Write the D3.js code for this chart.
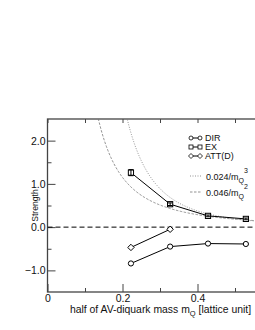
<!DOCTYPE html>
<html>
<head>
<meta charset="utf-8">
<script src="https://cdn.jsdelivr.net/npm/d3@7"></script>
<style>
  body { margin: 0; background: #fff; }
  svg { display: block; font-family: "Liberation Sans", Arial, sans-serif; }
</style>
</head>
<body>
<div id="app"></div>
<script>
// data
const mass = [0.2225, 0.327, 0.428, 0.529];
const dirValues = [-0.84, -0.45, -0.38, -0.39];
const exValues = [1.26, 0.53, 0.26, 0.19];
const exErrors = [0.07, 0.03, 0.02, 0.02];
const attMass = [0.2225, 0.327];
const attValues = [-0.47, -0.05];
// fit curves c/m^p from the legend
const fitCoef = [0.024, 0.046];
const fitPower = [3, 2];
const fitDash = ['1,1.5', '2.5,1.5'];
const xMajor = [0, 0.2, 0.4];
const xMinor = [0.1, 0.3, 0.5];
const yMajor = [-1, 0, 1, 2];
const yMinor = [-0.5, 0.5, 1.5];

const width = 255, height = 330;
const svg = d3.select('#app').append('svg').attr('width', width).attr('height', height);

const x = d3.scaleLinear().domain([0, 0.56]).range([47.5, 257.5]);
const y = d3.scaleLinear().domain([-1.5, 2.5]).range([292, 119]);

const defs = svg.append('defs');
defs.append('clipPath').attr('id', 'plot')
  .append('rect').attr('x', x(0)).attr('y', y(2.5)).attr('width', x(0.56) - x(0)).attr('height', y(-1.5) - y(2.5));

// frame
svg.append('rect')
  .attr('x', x(0)).attr('y', y(2.5))
  .attr('width', x(0.56) - x(0)).attr('height', y(-1.5) - y(2.5))
  .attr('fill', 'none').attr('stroke', '#444').attr('stroke-width', 1.3);

// axes with inward ticks
function styleAxis(g) {
  g.select('.domain').remove();
  g.selectAll('line').attr('stroke', '#444');
  g.selectAll('text').attr('font-size', 10.5).attr('fill', '#111');
}
svg.append('g').attr('transform', `translate(0,${y(-1.5)})`)
  .call(d3.axisBottom(x).tickValues(xMajor).tickSizeInner(-8).tickSizeOuter(0).tickPadding(3)
    .tickFormat(d => d === 0 ? '0' : d3.format('.1f')(d)))
  .call(styleAxis);
svg.append('g').attr('transform', `translate(0,${y(-1.5)})`)
  .call(d3.axisBottom(x).tickValues(xMinor).tickSizeInner(-4).tickSizeOuter(0).tickFormat(''))
  .call(styleAxis);
svg.append('g').attr('transform', `translate(0,${y(2.5)})`)
  .call(d3.axisTop(x).tickValues(xMajor.concat(xMinor)).tickSizeInner(-4).tickSizeOuter(0).tickFormat(''))
  .call(styleAxis);
svg.append('g').attr('transform', `translate(${x(0)},0)`)
  .call(d3.axisLeft(y).tickValues(yMajor).tickSizeInner(-8).tickSizeOuter(0).tickPadding(2)
    .tickFormat(d3.format('.1f')))
  .call(styleAxis);
svg.append('g').attr('transform', `translate(${x(0)},0)`)
  .call(d3.axisLeft(y).tickValues(yMinor).tickSizeInner(-4).tickSizeOuter(0).tickFormat(''))
  .call(styleAxis);

// axis titles
const xTitle = svg.append('text').attr('x', 160.5).attr('y', 313)
  .attr('text-anchor', 'middle').attr('font-size', 10.4).attr('fill', '#111');
xTitle.append('tspan').text('half of AV-diquark mass m');
xTitle.append('tspan').attr('font-size', 7.5).attr('dy', 3).text('Q');
xTitle.append('tspan').attr('dy', -3).text(' [lattice unit]');

svg.append('text').attr('transform', `translate(38,${y(0.5)}) rotate(-90)`)
  .attr('text-anchor', 'middle').attr('font-size', 8.6).attr('fill', '#111').text('Strength');

const plot = svg.append('g').attr('clip-path', 'url(#plot)');

// zero line
plot.append('line')
  .attr('x1', x(0)).attr('x2', x(0.56)).attr('y1', y(0)).attr('y2', y(0))
  .attr('stroke', '#000').attr('stroke-width', 1).attr('stroke-dasharray', '5,3');

// fit curves
fitCoef.forEach((c, i) => {
  const p = fitPower[i];
  const mStart = Math.pow(c / 2.6, 1 / p);
  const ms = d3.range(mStart, 0.565, 0.002);
  plot.append('path')
    .attr('d', d3.line().x(m => x(m)).y(m => y(c / Math.pow(m, p)))(ms))
    .attr('fill', 'none').attr('stroke', '#777').attr('stroke-width', 0.8)
    .attr('stroke-dasharray', fitDash[i]);
});

// series lines
const line = d3.line().x(d => x(d[0])).y(d => y(d[1]));
const dirPts = mass.map((m, i) => [m, dirValues[i]]);
const exPts = mass.map((m, i) => [m, exValues[i]]);
const attPts = attMass.map((m, i) => [m, attValues[i]]);
[dirPts, exPts, attPts].forEach(pts => {
  plot.append('path').attr('d', line(pts))
    .attr('fill', 'none').attr('stroke', '#000').attr('stroke-width', 1);
});

function marker(g, kind, cx, cy) {
  if (kind === 'circle') {
    g.append('circle').attr('cx', cx).attr('cy', cy).attr('r', 2.6);
  } else if (kind === 'square') {
    g.append('rect').attr('x', cx - 2.6).attr('y', cy - 2.6).attr('width', 5.2).attr('height', 5.2);
  } else {
    g.append('path').attr('d', `M${cx},${cy - 3.2}L${cx + 3.2},${cy}L${cx},${cy + 3.2}L${cx - 3.2},${cy}Z`);
  }
}

const marks = plot.append('g').attr('fill', '#fff').attr('stroke', '#000').attr('stroke-width', 1);
dirPts.forEach(d => marker(marks, 'circle', x(d[0]), y(d[1])));
exPts.forEach(d => marker(marks, 'square', x(d[0]), y(d[1])));
attPts.forEach(d => marker(marks, 'diamond', x(d[0]), y(d[1])));

// error bars on EX
const err = plot.append('g').attr('stroke', '#000').attr('stroke-width', 1);
exPts.forEach((d, i) => {
  const cx = x(d[0]);
  const y1 = y(d[1] + exErrors[i]), y2 = y(d[1] - exErrors[i]);
  err.append('line').attr('x1', cx).attr('x2', cx).attr('y1', y1).attr('y2', y2);
  err.append('line').attr('x1', cx - 2.5).attr('x2', cx + 2.5).attr('y1', y1).attr('y2', y1);
  err.append('line').attr('x1', cx - 2.5).attr('x2', cx + 2.5).attr('y1', y2).attr('y2', y2);
});

// legend
const legend = svg.append('g').attr('font-size', 9).attr('fill', '#111');
const legendNames = ['DIR', 'EX', 'ATT(D)'];
const legendKinds = ['circle', 'square', 'diamond'];
const legendY = [138, 147, 156];
legendNames.forEach((name, i) => {
  const ly = legendY[i];
  legend.append('line').attr('x1', 191).attr('x2', 200).attr('y1', ly).attr('y2', ly)
    .attr('stroke', '#000').attr('stroke-width', 1);
  const g = legend.append('g').attr('fill', '#fff').attr('stroke', '#000').attr('stroke-width', 0.8);
  [191, 200].forEach(cx => {
    if (legendKinds[i] === 'circle') g.append('circle').attr('cx', cx).attr('cy', ly).attr('r', 2);
    else if (legendKinds[i] === 'square') g.append('rect').attr('x', cx - 2).attr('y', ly - 2).attr('width', 4).attr('height', 4);
    else g.append('path').attr('d', `M${cx},${ly - 2.5}L${cx + 2.5},${ly}L${cx},${ly + 2.5}L${cx - 2.5},${ly}Z`);
  });
  legend.append('text').attr('x', 205).attr('y', ly + 3.3).text(name);
});
const fitY = [176, 192];
fitCoef.forEach((c, i) => {
  const ly = fitY[i];
  legend.append('line').attr('x1', 190).attr('x2', 201).attr('y1', ly).attr('y2', ly)
    .attr('stroke', '#777').attr('stroke-width', 0.8).attr('stroke-dasharray', fitDash[i]);
  const t = legend.append('text').attr('x', 206).attr('y', ly + 3.5);
  t.append('tspan').text(c + '/m');
  t.append('tspan').attr('font-size', 7).attr('dy', 3).text('Q');
  t.append('tspan').attr('font-size', 7).attr('dy', -10).text(fitPower[i]);
});
</script>
</body>
</html>
